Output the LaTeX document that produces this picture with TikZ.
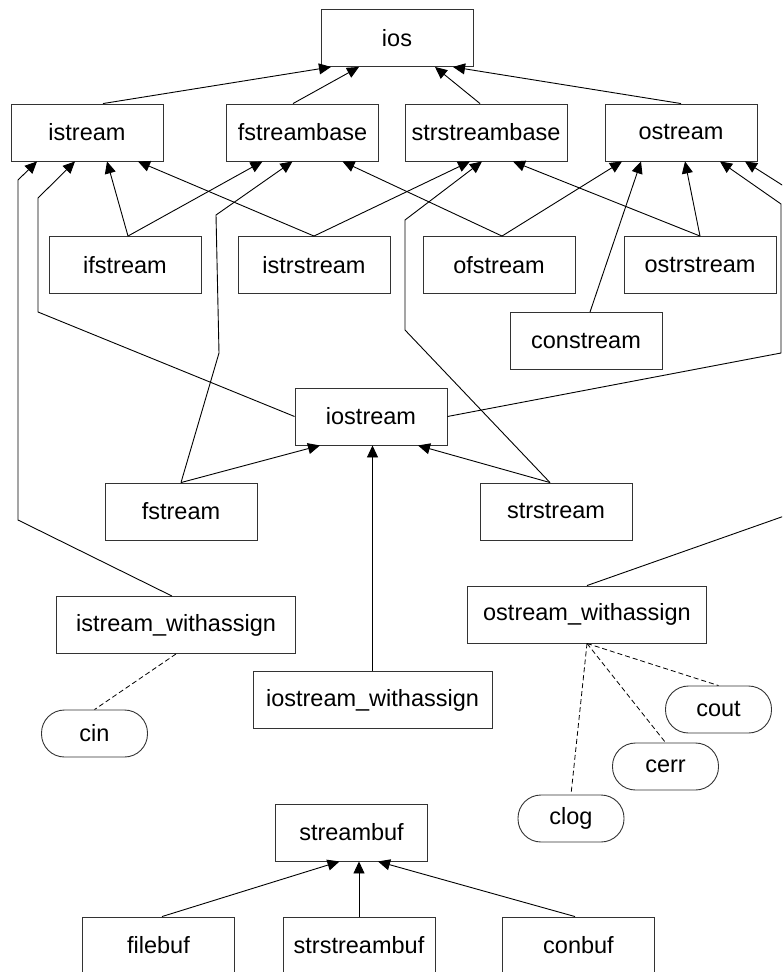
\documentclass[tikz,border=0pt]{standalone}
\usepackage{fontspec}
\setmainfont{Liberation Sans}
\usepackage{tikz}
\usetikzlibrary{arrows.meta}
\tikzstyle{cls} = [draw=black!80, rectangle, minimum width=152pt, minimum height=57pt, inner sep=0pt, line width=0.9pt, font=\fontsize{23.5}{28}\selectfont]
\tikzstyle{wcls} = [cls, minimum width=239pt]
\tikzstyle{obj} = [draw=black!80, rectangle, rounded corners=23pt, minimum width=106pt, minimum height=47pt, inner sep=0pt, line width=0.9pt, font=\fontsize{23.5}{28}\selectfont]
\tikzstyle{arrow} = [draw, -{Triangle[length=12pt, width=11pt]}, line width=0.9pt]
\tikzstyle{link} = [draw, dash pattern=on 5pt off 3pt, line width=0.8pt]

\begin{document}
\begin{tikzpicture}[x=1pt, y=-1pt]
    \useasboundingbox (0,0) rectangle (782,972);
    \clip (0,0) rectangle (782,972);
    % Draw classes
    \node (ios) [cls] at (397,38) {ios};
    
    \node (istream) [cls] at (87,132.5) {istream};
    \node (fstreambase) [cls] at (302.5,132.5) {fstreambase};
    \node (strstreambase) [cls, minimum width=162pt] at (486,132.5) {strstreambase};
    \node (ostream) [cls] at (681,132.5) {ostream};
    
    \node (ifstream) [cls] at (125,265) {ifstream};
    \node (istrstream) [cls] at (314,265) {istrstream};
    \node (ofstream) [cls] at (499,265) {ofstream};
    \node (ostrstream) [cls] at (700,265) {ostrstream};
    \node (constream) [cls] at (586,341) {constream};
    
    \node (iostream) [cls] at (371,416.5) {iostream};
    \node (fstream) [cls] at (181,511.5) {fstream};
    \node (strstream) [cls] at (556,511.5) {strstream};
    
    \node (istream_wa) [wcls] at (176,625) {istream\_withassign};
    \node (ostream_wa) [wcls] at (587,614.5) {ostream\_withassign};
    \node (iostream_wa) [wcls] at (372.5,700) {iostream\_withassign};
    
    % Objects
    \node (cin) [obj] at (94.5,733.5) {cin};
    \node (cout) [obj] at (718.5,709.5) {cout};
    \node (cerr) [obj] at (665.5,766.5) {cerr};
    \node (clog) [obj] at (571,818.5) {clog};
    
    % Buffers
    \node (streambuf) [cls] at (351.5,832.5) {streambuf};
    \node (filebuf) [cls] at (158.5,945.5) {filebuf};
    \node (strstreambuf) [cls] at (359,945.5) {strstreambuf};
    \node (conbuf) [cls] at (578.5,945.5) {conbuf};

    % Links
    \draw [arrow] ([xshift=16pt]istream.north) -- ([xshift=-66pt]ios.south);
    \draw [arrow] ([xshift=-9.5pt]fstreambase.north) -- ([xshift=-38pt]ios.south);
    \draw [arrow] ([xshift=-6pt]strstreambase.north) -- ([xshift=38pt]ios.south);
    \draw [arrow] (ostream.north) -- ([xshift=56pt]ios.south);
    
    \draw [arrow] ([xshift=3pt]ifstream.north) -- ([xshift=20pt]istream.south);
    \draw [arrow] ([xshift=3pt]ifstream.north) -- ([xshift=-40pt]fstreambase.south);
    \draw [arrow] (istrstream.north) -- ([xshift=51pt]istream.south);
    \draw [arrow] (istrstream.north) -- ([xshift=-16pt]strstreambase.south);
    \draw [arrow] ([xshift=3pt]ofstream.north) -- ([xshift=40pt]fstreambase.south);
    \draw [arrow] ([xshift=3pt]ofstream.north) -- ([xshift=-59pt]ostream.south);
    \draw [arrow] (ostrstream.north) -- ([xshift=27pt]strstreambase.south);
    \draw [arrow] (ostrstream.north) -- ([xshift=4pt]ostream.south);
    \draw [arrow] ([xshift=4pt]constream.north) -- ([xshift=-40pt]ostream.south);
    
    \draw [arrow] (iostream.west) -- (38,312) -- (38,198) -- ([xshift=-12pt]istream.south);
    \draw [arrow] (iostream.east) -- (781,353) -- (781,204) -- ([xshift=39pt]ostream.south);
    \draw [arrow] (fstream.north) -- ([xshift=-51pt]iostream.south);
    \draw [arrow] (fstream.north) -- (219,353) -- (216,215) -- ([xshift=-10pt]fstreambase.south);
    \draw [arrow] ([xshift=-6pt]strstream.north) -- ([xshift=47pt]iostream.south);
    \draw [arrow] ([xshift=-6pt]strstream.north) -- (405,330) -- (405,220) -- ([xshift=-4pt]strstreambase.south);
    
    \draw [arrow] (iostream_wa.north) -- (iostream_wa.north |- iostream.south);
    \draw [arrow] ([xshift=-4pt]istream_wa.north) -- (18,520) -- (18,180) -- ([xshift=-50pt]istream.south);
    \draw [arrow] (ostream_wa.north) -- (790,514) -- (790,190) -- ([xshift=64pt]ostream.south);
    
    \draw [link] (istream_wa.south) -- (cin.north);
    \draw [link] (ostream_wa.south) -- (cout.north);
    \draw [link] (ostream_wa.south) -- (cerr.north);
    \draw [link] (ostream_wa.south) -- (clog.north);
    
    \draw [arrow] ([xshift=3.5pt]filebuf.north) -- ([xshift=-12pt]streambuf.south);
    \draw [arrow] (strstreambuf.north) -- ([xshift=7.5pt]streambuf.south);
    \draw [arrow] ([xshift=-3.5pt]conbuf.north) -- ([xshift=26.5pt]streambuf.south);
\end{tikzpicture}
\end{document}
